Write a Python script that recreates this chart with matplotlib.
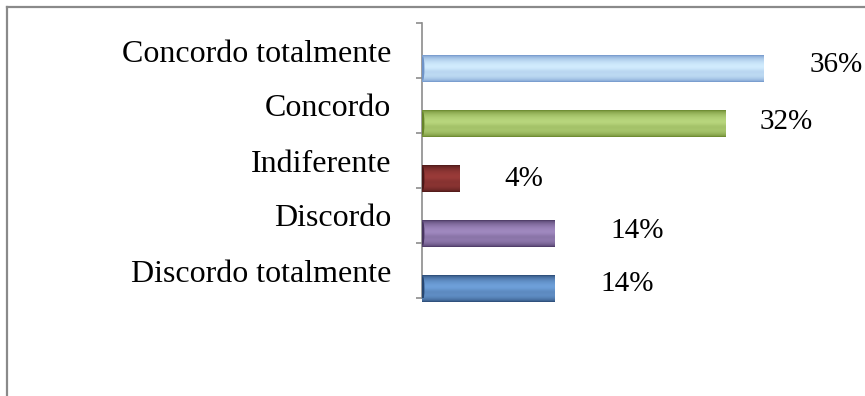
import numpy as np
import matplotlib
matplotlib.use("Agg")
import matplotlib.pyplot as plt
from matplotlib.colors import to_rgb
from matplotlib.lines import Line2D
from matplotlib.patches import Ellipse

# Survey answers, listed top to bottom
categories = ["Concordo totalmente", "Concordo", "Indiferente", "Discordo", "Discordo totalmente"]
values = [36, 32, 4, 14, 14]
value_labels = ["36%", "32%", "4%", "14%", "14%"]

# Shading colours per bar: (edge shade, highlight)
shades = [("#6E93C8", "#D4EEFF"),
          ("#66832A", "#BAD87F"),
          ("#4A1817", "#9C3C3A"),
          ("#47355F", "#A28BC2"),
          ("#274670", "#70A2DC")]

# Per-label nudges in pixels (dx, dy) for the value labels
label_nudge = [(46, -3), (34, -1), (44, 1), (55, -2), (45, -4)]

DPI = 100
W, H = 865, 396
fig = plt.figure(figsize=(W / DPI, H / DPI), dpi=DPI)
fig.patch.set_facecolor("white")

serif = ["Liberation Serif", "DejaVu Serif"]

# Plot area: zero line at x=422 px, category bands from y=23 px to y=298 px
left_px, top_px, bottom_px = 422, 23, 298
xmax = 40
px_per_unit = 9.5
ax = fig.add_axes([left_px / W, (H - bottom_px) / H,
                   xmax * px_per_unit / W, (bottom_px - top_px) / H])

n = len(categories)
pos = np.arange(n)
depth = 0.327      # bars sit toward the front of each band (3-D floor)
bar_h = 0.49

grey = "#8C8C8C"
for i, (v, (dark, light)) in enumerate(zip(values, shades)):
    yc = pos[i] + depth
    rect = ax.barh(yc, v, height=bar_h, color=dark, edgecolor="none", zorder=2)[0]
    # cylinder-style shading across the bar
    t = np.linspace(0, 1, 64)
    w = np.sin(np.pi * t) ** 0.55
    w = w * (1 - 0.22 * np.exp(-((t - 0.62) / 0.12) ** 2))
    d, l = np.array(to_rgb(dark)), np.array(to_rgb(light))
    grad = (d[None, :] * (1 - w[:, None]) + l[None, :] * w[:, None])[:, None, :]
    im = ax.imshow(grad, extent=(0, v, yc + bar_h / 2, yc - bar_h / 2),
                   aspect="auto", interpolation="bilinear", zorder=3)
    im.set_clip_path(rect)
    # darker rim at the base end
    ax.add_patch(Ellipse((0.08, yc), 0.35, bar_h * 0.92, facecolor=dark,
                         edgecolor="none", zorder=4))
    dx, dy = label_nudge[i]
    ax.annotate(value_labels[i], xy=(v, yc), xytext=(dx * 0.72, -dy * 0.72),
                textcoords="offset points", ha="left", va="center",
                fontsize=21, family=serif, color="black")

ax.set_xlim(0, xmax)
ax.set_ylim(n - 0.5, -0.5)

# category names at band centres, tick marks at band boundaries
ax.set_yticks(pos)
ax.set_yticklabels(categories, family=serif, fontsize=23)
ax.set_yticks(np.arange(n + 1) - 0.5, minor=True)
ax.tick_params(axis="y", which="major", length=0, pad=31 * 0.72)
ax.tick_params(axis="y", which="minor", length=6 * 0.72, width=1.2,
               color=grey, direction="out")
ax.set_xticks([])
for s in ("top", "right", "bottom"):
    ax.spines[s].set_visible(False)
ax.spines["left"].set_color(grey)
ax.spines["left"].set_linewidth(1.2)
ax.set_facecolor("none")

# chart frame: top and left edges
fig.add_artist(Line2D([7 / W, 1.0], [1 - 7 / H, 1 - 7 / H],
                      transform=fig.transFigure, color="#8A8A8A", lw=1.6))
fig.add_artist(Line2D([7 / W, 7 / W], [0, 1 - 7 / H],
                      transform=fig.transFigure, color="#8A8A8A", lw=1.6))

fig.savefig("out.png", dpi=DPI, facecolor="white")
